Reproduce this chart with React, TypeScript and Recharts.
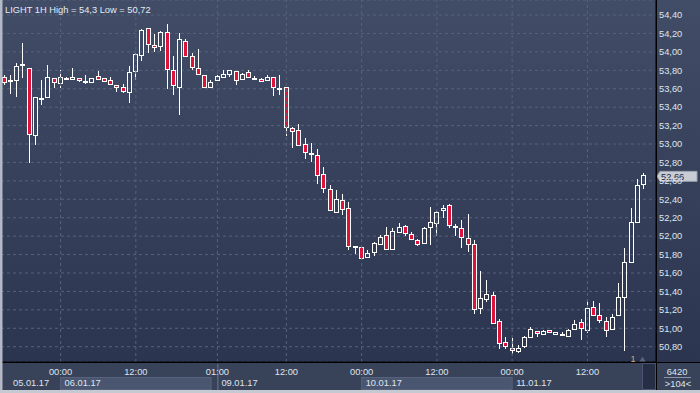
import { ComposedChart, Bar, XAxis, YAxis, CartesianGrid, ReferenceLine } from "recharts";

const opens = [
  53.73, 53.68, 53.69, 53.86, 53.82, 53.1, 53.5, 53.51, 53.72, 53.66,
  53.71, 53.71, 53.72, 53.68, 53.67, 53.74, 53.72, 53.69, 53.64, 53.62,
  53.56, 53.79, 53.97, 54.26, 54.08, 54.06, 54.22, 53.8, 53.62, 54.12,
  53.95, 53.83, 53.75, 53.62, 53.7, 53.73, 53.76, 53.79, 53.71, 53.78,
  53.72, 53.71, 53.69, 53.73, 53.61, 53.62, 53.17, 53.15, 53.0, 52.9,
  52.88, 52.67, 52.51, 52.26, 52.39, 52.31, 51.89, 51.88, 51.77, 51.83,
  51.92, 52.01, 51.86, 52.04, 52.11, 52.02, 51.96, 51.93, 52.1, 52.14,
  52.28, 52.34, 52.11, 52.09, 51.98, 51.91, 51.22, 51.32, 51.36, 51.08,
  50.85, 50.79, 50.75, 50.81, 50.9, 50.97, 50.94, 50.98, 50.94, 50.94,
  50.92, 50.99, 51.07, 50.98, 51.23, 51.14, 51.08, 50.99, 51.14, 51.34,
  51.72, 52.15, 52.57,
];
const highs = [
  53.75, 53.75, 53.88, 54.1, 53.83, 53.51, 53.7, 53.86, 53.72, 53.8,
  53.73, 53.82, 53.72, 53.75, 53.72, 53.79, 53.72, 53.73, 53.64, 53.65,
  53.85, 53.99, 54.25, 54.26, 54.19, 54.23, 54.3, 53.95, 54.2, 54.14,
  53.99, 54.03, 53.75, 53.7, 53.75, 53.8, 53.8, 53.79, 53.77, 53.8,
  53.74, 53.72, 53.75, 53.73, 53.75, 53.62, 53.19, 53.22, 53.07, 53.01,
  52.95, 52.75, 52.55, 52.5, 52.46, 52.37, 51.89, 51.88, 51.85, 51.94,
  52.01, 52.1, 52.09, 52.14, 52.12, 52.04, 51.97, 52.1, 52.32, 52.27,
  52.34, 52.35, 52.13, 52.18, 52.24, 51.96, 51.62, 51.52, 51.39, 51.1,
  50.91, 50.89, 50.82, 50.92, 51.01, 50.97, 50.98, 50.98, 50.96, 50.96,
  50.99, 51.09, 51.1, 51.31, 51.3, 51.27, 51.12, 51.16, 51.49, 51.87,
  52.31, 52.62, 52.68,
];
const lows = [
  53.64, 53.54, 53.51, 53.72, 52.79, 52.99, 53.42, 53.51, 53.61, 53.61,
  53.7, 53.69, 53.67, 53.65, 53.67, 53.7, 53.68, 53.64, 53.56, 53.55,
  53.45, 53.7, 53.9, 53.99, 54.0, 54.01, 53.6, 53.53, 53.31, 53.95,
  53.8, 53.75, 53.61, 53.61, 53.68, 53.72, 53.73, 53.64, 53.7, 53.73,
  53.7, 53.67, 53.68, 53.52, 53.53, 53.09, 52.96, 52.98, 52.84, 52.81,
  52.57, 52.47, 52.27, 52.25, 52.23, 51.85, 51.81, 51.75, 51.76, 51.78,
  51.91, 51.86, 51.86, 52.03, 52.0, 51.96, 51.89, 51.93, 51.9, 52.0,
  52.2, 52.09, 52.0, 51.87, 51.83, 51.16, 51.16, 51.28, 51.05, 50.78,
  50.77, 50.72, 50.73, 50.79, 50.9, 50.9, 50.93, 50.95, 50.94, 50.92,
  50.91, 50.99, 50.87, 50.95, 51.13, 51.06, 50.9, 50.99, 51.13, 50.75,
  51.72, 52.14, 52.51,
];
const closes = [
  53.67, 53.7, 53.85, 53.87, 53.11, 53.51, 53.5, 53.73, 53.67, 53.73,
  53.72, 53.73, 53.7, 53.68, 53.72, 53.71, 53.68, 53.65, 53.62, 53.57,
  53.78, 53.98, 54.24, 54.09, 54.05, 54.22, 53.81, 53.64, 54.14, 53.96,
  53.84, 53.76, 53.62, 53.67, 53.74, 53.76, 53.8, 53.7, 53.76, 53.73,
  53.72, 53.68, 53.73, 53.62, 53.61, 53.19, 53.14, 52.99, 52.91, 52.9,
  52.66, 52.52, 52.28, 52.4, 52.3, 51.89, 51.89, 51.76, 51.82, 51.93,
  51.99, 51.86, 52.06, 52.1, 52.03, 51.97, 51.92, 52.09, 52.15, 52.26,
  52.31, 52.12, 52.11, 51.99, 51.92, 51.21, 51.33, 51.37, 51.06, 50.84,
  50.81, 50.76, 50.79, 50.9, 50.99, 50.95, 50.97, 50.96, 50.96, 50.94,
  50.98, 51.05, 51.0, 51.22, 51.14, 51.09, 50.98, 51.12, 51.34, 51.72,
  52.15, 52.56, 52.66,
];

const timeTicks = [9, 21, 34, 45, 57, 69, 81, 93];
const timeLabels = ["00:00", "12:00", "01:00", "12:00", "00:00", "12:00", "00:00", "12:00"];
const dayStarts = [0, 9, 34, 57, 81];
const dayLabels = ["05.01.17", "06.01.17", "09.01.17", "10.01.17", "11.01.17"];
const priceTicks = [
  50.8, 51.0, 51.2, 51.4, 51.6, 51.8, 52.0, 52.2, 52.4, 52.6, 52.8,
  53.0, 53.2, 53.4, 53.6, 53.8, 54.0, 54.2, 54.4,
];
const lastPrice = 52.66;

const W = 700;
const H = 393;
const AXIS_W = 44;
const AXIS_H = 31;
const PAD_R = 9;
const STEP = (W - 1 - AXIS_W - PAD_R) / opens.length;

const FONT = "'Liberation Sans', Arial, sans-serif";
const TEXT = "#dfe5ee";
const RED = "#dc143c";
const GRID = "#56627c";

const data = opens.map((o, i) => ({
  i,
  open: o,
  high: highs[i],
  low: lows[i],
  close: closes[i],
  range: [lows[i], highs[i]],
}));

function Candle(props: any) {
  const { x, y, width, height, payload } = props;
  const { open, close, high, low } = payload;
  const ppu = high > low ? height / (high - low) : 0;
  const c = Math.floor(x + width / 2);
  const top = Math.round(y);
  const bottom = Math.round(y + height);
  const bt = Math.round(y + (high - Math.max(open, close)) * ppu) + 0.5;
  let bb = Math.round(y + (high - Math.min(open, close)) * ppu) + 0.5;
  if (bb - bt < 1) bb = bt + 1;
  const up = close >= open;
  return (
    <g>
      <line x1={c + 0.5} x2={c + 0.5} y1={top} y2={bt} stroke="#fff" />
      <line x1={c + 0.5} x2={c + 0.5} y1={bb} y2={bottom} stroke="#fff" />
      <rect x={c - 1.5} y={bt} width={4} height={bb - bt} fill={up ? "none" : RED} stroke="#fff" />
    </g>
  );
}

function XTick(props: any) {
  const { x, payload } = props;
  const i = payload.value;
  const t = timeTicks.indexOf(i);
  const d = dayStarts.indexOf(i);
  return (
    <g fontFamily={FONT} fontSize={9.3} fill={TEXT}>
      {d >= 0 && d % 2 === 1 && (
        <rect x={x} y={377.5} width={STEP * 24} height={12} fill="#4a5570" stroke="#56617b" />
      )}
      {i === 34 && <line x1={x + 0.5} x2={x + 0.5} y1={364} y2={390} stroke="#6a7590" />}
      {t >= 0 && (
        <text x={x} y={374.5} textAnchor="middle">
          {timeLabels[t]}
        </text>
      )}
      {d >= 0 && (
        <text x={i === 0 ? 13 : x + 4} y={385.5}>
          {dayLabels[d]}
        </text>
      )}
    </g>
  );
}

function YTick(props: any) {
  const { y, payload } = props;
  return (
    <text x={659} y={y + 3.3} fontFamily={FONT} fontSize={9.3} fill={TEXT}>
      {payload.value.toFixed(2).replace(".", ",")}
    </text>
  );
}

function PriceLabel(props: any) {
  const { viewBox } = props;
  const y = viewBox.y + 1;
  const x = viewBox.x + viewBox.width;
  return (
    <g>
      <path
        d={`M${x + 1},${y} L${x + 4},${y - 5} L${x + 41},${y - 5} L${x + 41},${y + 5} L${x + 4},${y + 5} Z`}
        fill="#c7ccd5"
        stroke="#9aa2b0"
      />
      <text x={x + 5} y={y + 3.4} fontFamily={FONT} fontSize={9.3} fill="#1f2738">
        {lastPrice.toFixed(2).replace(".", ",")}
      </text>
    </g>
  );
}

export default function App() {
  return (
    <div style={{ position: "relative", width: W, height: H, overflow: "hidden" }}>
      <style>{`body{margin:0}`}</style>
      <div
        style={{
          position: "absolute",
          left: 0,
          top: 0,
          width: W,
          height: H - AXIS_H,
          background: "linear-gradient(to bottom, #414c67, #2c3550)",
        }}
      />
      <div
        style={{ position: "absolute", left: 0, top: H - AXIS_H, width: W, height: AXIS_H, background: "#384259" }}
      />
      <div style={{ position: "absolute", left: 0, top: 0 }}>
        <ComposedChart width={W} height={H} data={data} margin={{ top: 0, right: 0, bottom: 0, left: 1 }}>
          <CartesianGrid vertical={false} stroke={GRID} strokeDasharray="3 3" />
          <XAxis
            dataKey="i"
            type="category"
            ticks={[0, ...timeTicks]}
            interval={0}
            height={AXIS_H}
            padding={{ left: 0, right: PAD_R }}
            tickLine={false}
            axisLine={{ stroke: "#000" }}
            tick={<XTick />}
          />
          <YAxis
            orientation="right"
            width={AXIS_W}
            domain={[50.634, 54.563]}
            allowDataOverflow
            ticks={priceTicks}
            interval={0}
            tickLine={false}
            axisLine={{ stroke: "#000" }}
            tick={<YTick />}
          />
          {timeTicks.map((t) => (
            <ReferenceLine key={t} x={t} stroke={GRID} strokeDasharray="3 3" />
          ))}
          <Bar dataKey="range" barSize={4} isAnimationActive={false} shape={(p: any) => <Candle {...p} />} />
          <ReferenceLine y={lastPrice} stroke="none" label={<PriceLabel />} />
        </ComposedChart>
      </div>
      <svg
        width={W}
        height={H}
        style={{ position: "absolute", left: 0, top: 0, pointerEvents: "none" }}
        fontFamily={FONT}
      >
        <text x={5} y={12.5} fontSize={9.3} fill="#e6ebf2">
          LIGHT 1H High = 54,3 Low = 50,72
        </text>
        <line x1={0} x2={W} y1={362.5} y2={362.5} stroke="#000" />
        <line x1={656.5} x2={656.5} y1={0} y2={H} stroke="#000" />
        <path d="M639.5,361.5 L642.5,356.5 L645.5,361.5 Z" fill="#59637a" />
        <rect x={642.5} y={363.5} width={13} height={26} fill="#252e45" stroke="#4a5470" />
        <text x={633} y={361.5} fontSize={9} fill="#d9a870" textAnchor="middle">
          1
        </text>
        <text x={677} y={374.5} fontSize={9.3} fill={TEXT} textAnchor="middle">
          6420
        </text>
        <line x1={664} x2={691} y1={377.5} y2={377.5} stroke="#8a94a8" />
        <text x={678} y={386.5} fontSize={9.3} fill={TEXT} textAnchor="middle">
          &gt;104&lt;
        </text>
        <rect x={0} y={0} width={2.5} height={H} fill="#b3bac6" />
        <rect x={0} y={390} width={W} height={3} fill="#c5cad2" />
      </svg>
    </div>
  );
}
